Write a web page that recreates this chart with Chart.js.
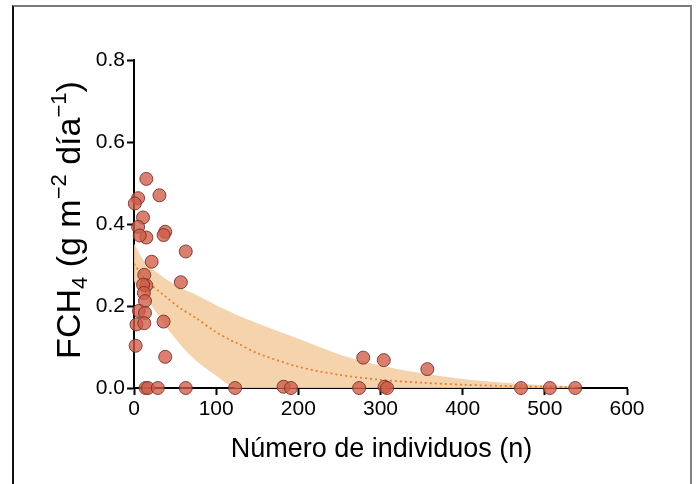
<!DOCTYPE html>
<html>
<head>
<meta charset="utf-8">
<script src="https://cdn.jsdelivr.net/npm/chart.js@4/dist/chart.umd.min.js"></script>
<style>
  body { margin: 0; background: #fff; overflow: hidden; }
  #frame {
    position: absolute; left: 12px; top: 5px; width: 676px; height: 520px;
    border-top: 2px solid #7a7a7a; border-left: 2px solid #111; border-right: 2px solid #808080;
  }
  #wrap { position: absolute; left: 0; top: 0; width: 696px; height: 484px; }
</style>
</head>
<body>
<div id="frame"></div>
<div id="wrap"><canvas id="fluxChart" width="696" height="484"></canvas></div>
<script>
// Observed fluxes (n, FCH4)
const obsN = [15, 5, 1, 31, 11, 5, 38, 36, 15, 7, 63, 21.5, 12.5, 57, 15, 11, 12, 13.4, 6, 13.4, 36, 3, 12.5, 2, 38,
  14, 17, 29, 63, 123, 182, 191, 274, 305, 308, 471, 506, 537,
  279, 304, 357];
const obsFlux = [0.51, 0.463, 0.45, 0.47, 0.416, 0.393, 0.381, 0.373, 0.367, 0.372, 0.333, 0.308, 0.276, 0.258, 0.25, 0.252, 0.232, 0.212, 0.188, 0.183, 0.162, 0.155, 0.158, 0.103, 0.076,
  0, 0, 0, 0, 0, 0.003, 0, 0, 0.003, 0, 0, 0, 0,
  0.074, 0.068, 0.046];

// Fitted curve and confidence band
const fitN = [0, 15, 36, 56, 76, 97, 117, 125, 150, 200, 250, 300, 350, 400, 450, 500, 540];
const fitFlux = [0.303, 0.262, 0.227, 0.195, 0.17, 0.14, 0.117, 0.11, 0.085, 0.052, 0.032, 0.02, 0.013, 0.008, 0.005, 0.003, 0.002];
const bandUpper = [0.352, 0.303, 0.27, 0.245, 0.227, 0.205, 0.186, 0.178, 0.158, 0.12, 0.082, 0.055, 0.036, 0.022, 0.013, 0.007, 0.004];
const bandLower = [0.26, 0.22, 0.158, 0.107, 0.066, 0.034, 0.006, 0, 0, 0, 0, 0, 0, 0, 0, 0, 0];

const xTicks = [0, 100, 200, 300, 400, 500, 600];
const yTicks = [0.0, 0.2, 0.4, 0.6, 0.8];

const FONT = "'Liberation Sans', Arial, sans-serif";

function pairs(xs, ys) {
  return xs.map((x, i) => ({ x: x, y: ys[i] }));
}

// axis titles with sub/superscripts
const axisTitles = {
  id: 'axisTitles',
  afterDraw(chart) {
    const ctx = chart.ctx;
    const area = chart.chartArea;
    ctx.save();
    ctx.fillStyle = '#000';
    ctx.textBaseline = 'alphabetic';

    // x title
    ctx.font = '27px ' + FONT;
    ctx.textAlign = 'center';
    ctx.fillText('Número de individuos (n)', (area.left + area.right) / 2 + 1, 457);

    // y title
    const size = 34, small = 22;
    const parts = [
      ['FCH', size, 0], ['4', small, 0.22 * size], [' (g m', size, 0], ['\u22122', small, -0.42 * size],
      [' día', size, 0], ['\u22121', small, -0.42 * size], [')', size, 0]
    ];
    let total = 0;
    parts.forEach(p => { ctx.font = p[1] + 'px ' + FONT; total += ctx.measureText(p[0]).width; });
    ctx.translate(80, 220);
    ctx.rotate(-Math.PI / 2);
    ctx.textAlign = 'left';
    let pos = -total / 2;
    parts.forEach(p => {
      ctx.font = p[1] + 'px ' + FONT;
      ctx.fillText(p[0], pos, p[2]);
      pos += ctx.measureText(p[0]).width;
    });
    ctx.restore();
  }
};

const ctx = document.getElementById('fluxChart').getContext('2d');
const fluxChart = new Chart(ctx, {
  type: 'scatter',
  data: {
    datasets: [{
      label: 'lower',
      data: pairs(fitN, bandLower),
      order: 3,
      showLine: true,
      borderWidth: 0,
      borderColor: 'rgba(0,0,0,0)',
      pointRadius: 0,
      fill: false,
      tension: 0.3,
    }, {
      label: 'upper',
      data: pairs(fitN, bandUpper),
      order: 2,
      showLine: true,
      borderWidth: 0,
      borderColor: 'rgba(0,0,0,0)',
      backgroundColor: 'rgba(243, 206, 164, 0.9)',
      pointRadius: 0,
      fill: '-1',
      tension: 0.3,
    }, {
      label: 'fit',
      data: pairs(fitN, fitFlux),
      order: 1,
      showLine: true,
      borderColor: 'rgb(236, 128, 38)',
      borderWidth: 1.8,
      borderDash: [2, 3],
      pointRadius: 0,
      fill: false,
      tension: 0.3,
    }, {
      label: 'obs',
      data: pairs(obsN, obsFlux),
      order: 0,
      pointRadius: 6.5,
      pointBorderWidth: 1,
      backgroundColor: 'rgba(206, 92, 72, 0.78)',
      borderColor: 'rgba(115, 45, 35, 0.85)',
      clip: false,
    }],
  },
  options: {
    responsive: false,
    animation: false,
    layout: { padding: { left: 0, right: 69, top: 60, bottom: 0 } },
    plugins: { legend: { display: false }, tooltip: { enabled: false } },
    scales: {
      x: {
        type: 'linear',
        min: 0, max: 600,
        afterFit: s => { s.height = 96; },
        afterBuildTicks: s => { s.ticks = xTicks.map(v => ({ value: v })); },
        grid: { drawOnChartArea: false, tickLength: 7, tickWidth: 2, tickColor: '#000' },
        border: { color: '#000', width: 2 },
        ticks: { color: '#000', padding: 2, font: { family: FONT, size: 21 }, maxRotation: 0 },
      },
      y: {
        type: 'linear',
        min: 0, max: 0.8,
        afterFit: s => { s.width = 134; },
        afterBuildTicks: s => { s.ticks = yTicks.map(v => ({ value: v })); },
        grid: { drawOnChartArea: false, tickLength: 7, tickWidth: 2, tickColor: '#000' },
        border: { color: '#000', width: 2 },
        ticks: { color: '#000', padding: 2, font: { family: FONT, size: 21 }, callback: v => v.toFixed(1) },
      },
    },
  },
  plugins: [axisTitles],
});
</script>
</body>
</html>
